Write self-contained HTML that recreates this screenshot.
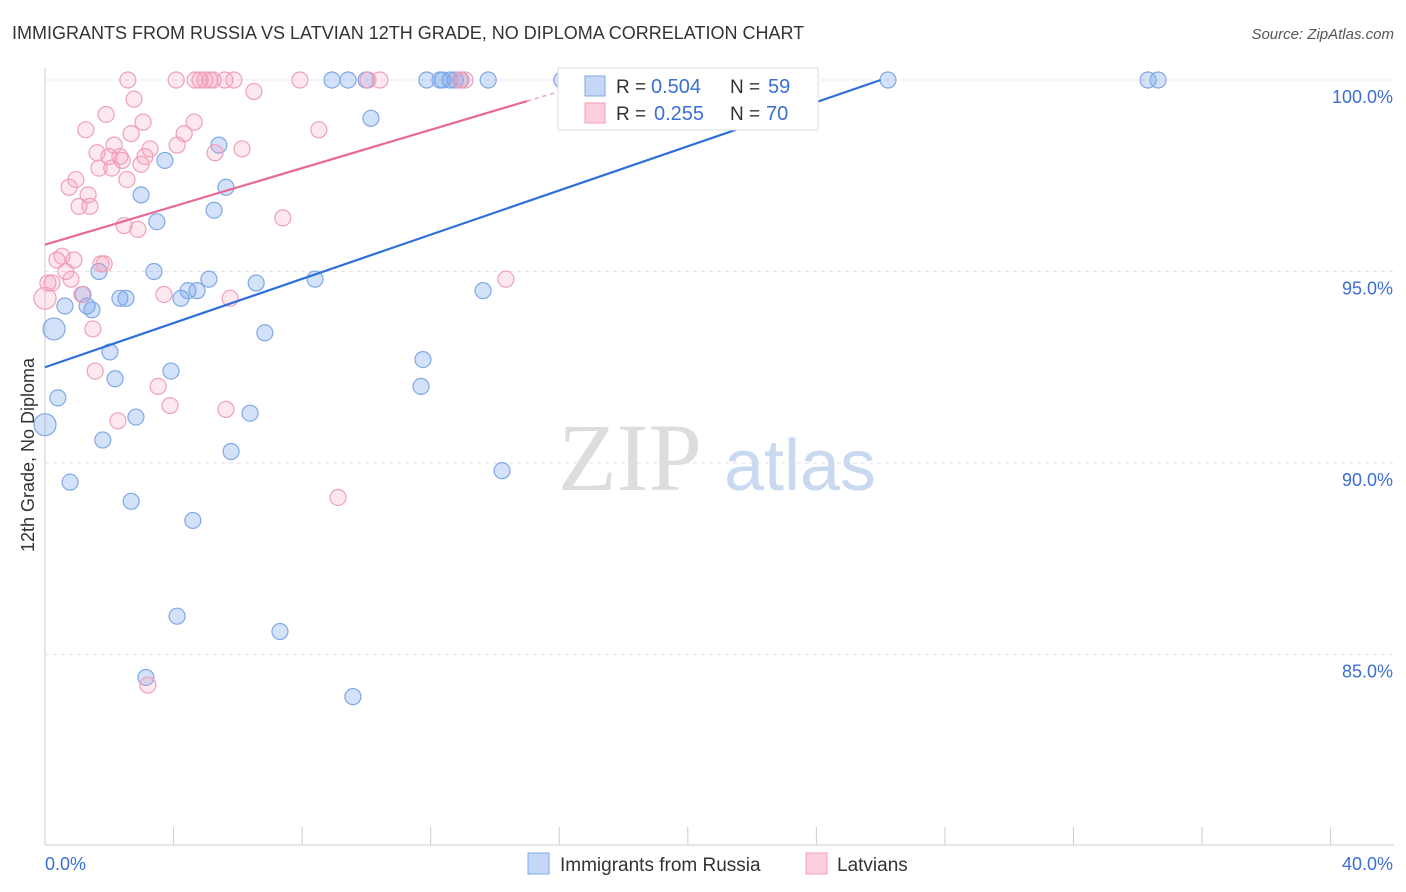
<!DOCTYPE html>
<html><head><meta charset="utf-8"><style>
body{margin:0;background:#fff;font-family:"Liberation Sans",sans-serif;}
svg{display:block}
</style></head><body>
<svg id="chart" width="1406" height="892">
<text x="12" y="39" font-size="18" fill="#333">IMMIGRANTS FROM RUSSIA VS LATVIAN 12TH GRADE, NO DIPLOMA CORRELATION CHART</text>
<text x="1394" y="39" font-size="15" fill="#555" font-style="italic" text-anchor="end">Source: ZipAtlas.com</text>
<g id="grid"></g>
<text x="630" y="490" font-size="96" fill="#ddd" font-family="Liberation Serif,serif" text-anchor="middle">ZIP</text>
<text x="800" y="490" font-size="72" fill="#c9d9f0" text-anchor="middle">atlas</text>
<g id="marks"></g>
<text transform="translate(34,455) rotate(-90)" font-size="18" fill="#333" text-anchor="middle">12th Grade, No Diploma</text>
<g>
<rect x="558" y="68" width="260" height="62" fill="#fff" stroke="#ddd"/>
<rect x="585" y="76" width="20" height="20" fill="#c4d7f5" stroke="#7fa8e6"/>
<rect x="585" y="103" width="20" height="20" fill="#fbd0dc" stroke="#f0a0b8"/>
<text x="616" y="93" font-size="19" fill="#333">R =</text>
<text x="651" y="93" font-size="20" fill="#3b6fd4">0.504</text>
<text x="730" y="93" font-size="19" fill="#333">N =</text>
<text x="768" y="93" font-size="20" fill="#3b6fd4">59</text>
<text x="616" y="120" font-size="19" fill="#333">R =</text>
<text x="654" y="120" font-size="20" fill="#3b6fd4">0.255</text>
<text x="730" y="120" font-size="19" fill="#333">N =</text>
<text x="766" y="120" font-size="20" fill="#3b6fd4">70</text>
</g>
<g>
<rect x="528" y="853" width="21" height="21" fill="#c4d7f5" stroke="#7fa8e6"/>
<text x="560" y="871" font-size="19" fill="#333">Immigrants from Russia</text>
<rect x="806" y="853" width="21" height="21" fill="#fbd0dc" stroke="#f0a0b8"/>
<text x="837" y="871" font-size="19" fill="#333">Latvians</text>
</g>
</svg>
<script>
const xTicks=[0,4,8,12,16,20,24,28,32,36,40];
const yTicks=[85,90,95,100];
const blueX=[0.0,0.28,0.4,0.62,0.78,1.18,1.31,1.46,1.68,1.8,2.02,2.18,2.33,2.52,2.68,2.83,2.99,3.14,3.39,3.48,3.73,3.92,4.11,4.23,4.45,4.6,4.73,5.1,5.26,5.41,5.63,5.79,6.38,6.57,6.84,7.31,8.4,8.93,9.43,9.58,9.99,10.14,11.7,11.76,11.88,12.29,12.38,12.6,12.77,12.94,13.63,13.79,14.22,16.08,18.29,21.94,26.23,34.32,34.63];
const blueY=[91.0,93.5,91.7,94.1,89.5,94.4,94.1,94.0,95.0,90.6,92.9,92.2,94.3,94.3,89.0,91.2,97.0,84.4,95.0,96.3,97.9,92.4,86.0,94.3,94.5,88.5,94.5,94.8,96.6,98.3,97.2,90.3,91.3,94.7,93.4,85.6,94.8,100,100,83.9,100,99.0,92.0,92.7,100,100,100,100,100,100,94.5,100,89.8,100,100,100,100,100,100];
const pinkX=[0.0,0.09,0.22,0.37,0.53,0.65,0.75,0.81,0.9,0.96,1.06,1.15,1.27,1.34,1.4,1.49,1.56,1.62,1.68,1.74,1.84,1.9,1.99,2.08,2.15,2.27,2.33,2.4,2.46,2.55,2.58,2.68,2.77,2.89,2.99,3.05,3.11,3.2,3.27,3.52,3.7,3.89,4.08,4.11,4.33,4.64,4.67,4.82,4.98,5.13,5.23,5.29,5.6,5.63,5.76,5.88,6.13,6.5,7.4,7.93,8.52,9.12,10.05,10.42,12.91,13.07,14.34];
const pinkY=[94.3,94.7,94.7,95.3,95.4,95.0,97.2,94.8,95.3,97.4,96.7,94.4,98.7,97.0,96.7,93.5,92.4,98.1,97.7,95.2,95.2,99.1,98.0,97.7,98.3,91.1,98.0,97.9,96.2,97.4,100,98.6,99.5,96.1,97.8,98.9,98.0,84.2,98.2,92.0,94.4,91.5,100,98.3,98.6,98.9,100,100,100,100,100,98.1,100,91.4,94.3,100,98.2,99.7,96.4,100,98.7,89.1,100,100,100,100,94.8];
const blueLine=[0,92.5,26.0,100];
const pinkLine=[0,95.7,15,99.45];
const X=v=>45+v*32.14, Y=v=>80+(100-v)*38.3;
const NS="http://www.w3.org/2000/svg";
const g=document.getElementById('grid'), m=document.getElementById('marks');
function mk(t,a,p){const e=document.createElementNS(NS,t);for(const k in a)e.setAttribute(k,a[k]);p.appendChild(e);return e;}
mk('line',{x1:45,y1:68,x2:45,y2:845,stroke:'#ccc'},g);
mk('line',{x1:45,y1:845,x2:1394,y2:845,stroke:'#ccc'},g);
yTicks.forEach(t=>{const l=mk('line',{x1:45,x2:1394,y1:Y(t),y2:Y(t),stroke:'#e2e2e2','stroke-dasharray':'4,4'},g);


const tx=mk('text',{x:1393,y:Y(t)+23,'font-size':18,fill:'#3b6fd4','text-anchor':'end'},g);tx.textContent=t.toFixed(1)+'%';

});
xTicks.forEach(t=>{const l=mk('line',{x1:X(t),x2:X(t),y1:827,y2:845,stroke:'#ccc'},g);

});
[[0,'0.0%','start',45],[40,'40.0%','end',1393]].forEach(a=>{const tx=mk('text',{x:a[3],y:870,'font-size':18,fill:'#3b6fd4','text-anchor':a[2]},g);tx.textContent=a[1];

});
blueX.forEach((v,i)=>{const c=mk('circle',{cx:X(v),cy:Y(blueY[i]),r:i<2?11:8,fill:'rgba(110,160,235,0.3)',stroke:'#7fa8e6','stroke-width':1.2},m);

});
pinkX.forEach((v,i)=>{const c=mk('circle',{cx:X(v),cy:Y(pinkY[i]),r:i<1?11:8,fill:'rgba(245,150,180,0.22)',stroke:'#f0a0b8','stroke-width':1.2},m);

});
const bl=mk('line',{x1:X(blueLine[0]),y1:Y(blueLine[1]),x2:X(blueLine[2]),y2:Y(blueLine[3]),stroke:'#2f6fd8','stroke-width':2.2},m);


const pl=mk('line',{x1:X(pinkLine[0]),y1:Y(pinkLine[1]),x2:X(pinkLine[2]),y2:Y(pinkLine[3]),stroke:'#e86a94','stroke-width':2.2},m);


const ps=(pinkLine[3]-pinkLine[1])/(pinkLine[2]-pinkLine[0]);
const pd=mk('line',{x1:X(pinkLine[2]),y1:Y(pinkLine[3]),x2:X(16),y2:Y(pinkLine[3]+ps),stroke:'#f0a0b8','stroke-width':1.5,'stroke-dasharray':'4,4'},m);


</script>
</body></html>
